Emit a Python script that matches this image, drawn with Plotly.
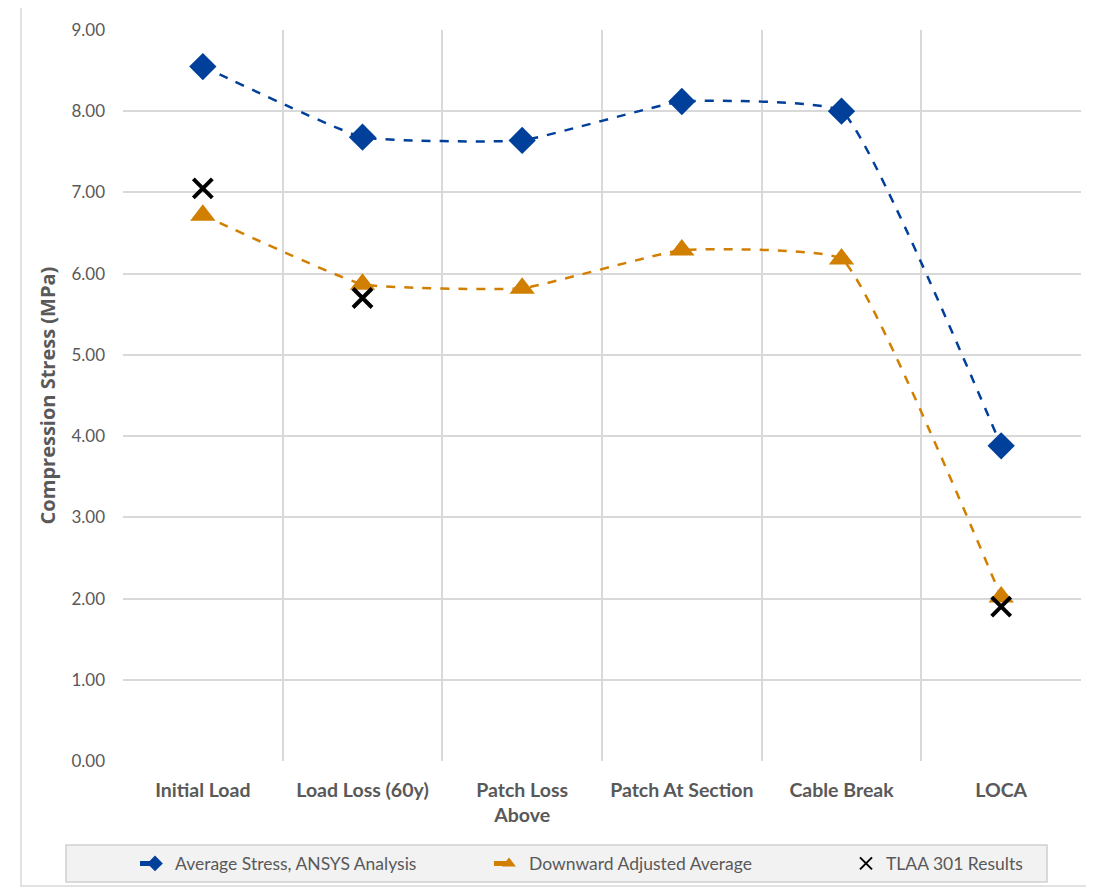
import plotly.graph_objects as go

categories = ["Initial Load", "Load Loss (60y)", "Patch Loss<br>Above", "Patch At Section", "Cable Break", "LOCA"]
avg_stress = [8.55, 7.68, 7.64, 8.12, 8.00, 3.88]
downward_adj = [6.72, 5.87, 5.82, 6.29, 6.18, 2.02]
tlaa_idx = [0, 1, 5]
tlaa_vals = [7.05, 5.70, 1.90]

FONT = "Lato"
BLUE = "#003f9a"
ORANGE = "#d17f00"
W, H = 1086, 880

fig = go.Figure()
fig.add_trace(go.Scatter(
    x=categories, y=avg_stress, name="Average Stress, ANSYS Analysis", legend="legend",
    mode="lines+markers", line=dict(color=BLUE, width=2.5, dash="dash", shape="spline", smoothing=0.35),
    marker=dict(symbol="diamond", size=21, color=BLUE)))
fig.add_trace(go.Scatter(
    x=categories, y=downward_adj, name="Downward Adjusted Average", legend="legend2",
    mode="lines+markers", line=dict(color=ORANGE, width=2.5, dash="dash", shape="spline", smoothing=0.35),
    marker=dict(symbol="triangle-up", size=22, color=ORANGE)))
fig.add_trace(go.Scatter(
    x=[categories[i] for i in tlaa_idx], y=tlaa_vals, name="TLAA 301 Results", legend="legend3",
    mode="markers",
    marker=dict(symbol="x-thin", size=19, color="black", line=dict(color="black", width=4))))

def px_x(sx):
    return (sx - 123) / 958

def px_y(sy):
    return (761 - sy) / 731

leg_common = dict(orientation="h", yref="container", yanchor="middle", y=1 - (863.5 - 8) / H,
                  xanchor="left",
                  bgcolor="rgba(0,0,0,0)", font=dict(size=17.5, color="#595959", family=FONT),
                  itemsizing="constant")

fig.update_layout(
    width=W, height=H,
    margin=dict(l=115, r=13, t=22, b=127, autoexpand=False),
    paper_bgcolor="white", plot_bgcolor="white",
    font=dict(family=FONT, color="#595959"),
    showlegend=True,
    legend=dict(x=px_x(135), **leg_common),
    legend2=dict(x=px_x(489), **leg_common),
    legend3=dict(x=px_x(846), **leg_common),
    shapes=[
        dict(type="rect", xref="paper", yref="paper", x0=px_x(21), x1=px_x(1090), y0=px_y(886), y1=px_y(6),
             line=dict(color="#d9d9d9", width=1.5), fillcolor="rgba(0,0,0,0)", layer="below"),
        dict(type="rect", xref="paper", yref="paper", x0=px_x(66), x1=px_x(1047), y0=px_y(882), y1=px_y(845),
             line=dict(color="#d0d0d0", width=1.5), fillcolor="#f2f2f2", layer="below"),
    ],
)
fig.update_xaxes(
    type="category", range=[-0.5, 5.5], tickson="boundaries", ticks="",
    showgrid=True, gridcolor="#d9d9d9", gridwidth=1.5,
    showline=False, tickfont=dict(size=19.5, color="#595959", family=FONT, weight="bold"),
    ticklabelstandoff=15)
fig.update_yaxes(
    range=[0, 9], dtick=1, tickformat=".2f", showgrid=True, gridcolor="#d9d9d9", gridwidth=1.5,
    zeroline=False, showline=False, tickfont=dict(size=17, color="#595959", family=FONT),
    ticklabelstandoff=17,
    title=dict(text="Compression Stress (MPa)",
               font=dict(size=20, color="#595959", family="Open Sans", weight="bold"), standoff=10))

fig.write_html("out.html")
